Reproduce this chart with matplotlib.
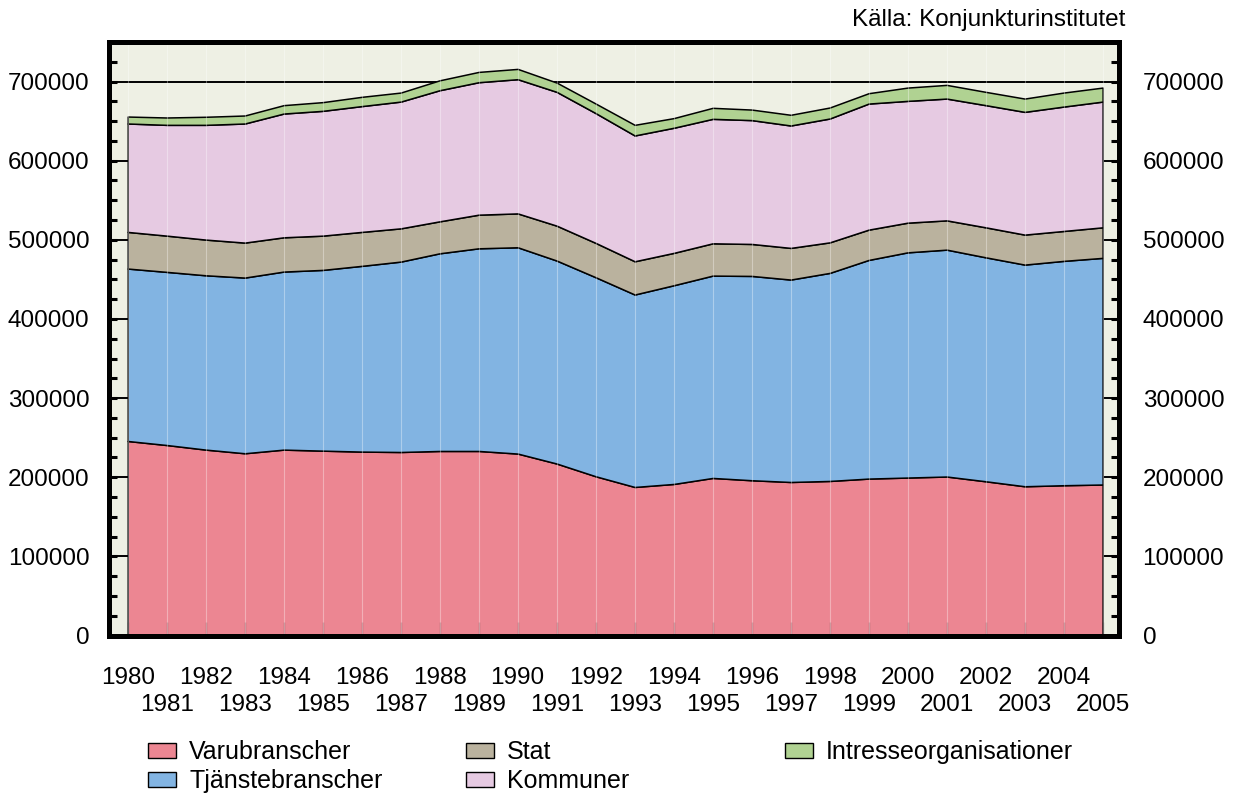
import matplotlib.pyplot as plt
import matplotlib.patches as mpatches
from matplotlib.ticker import MultipleLocator
import numpy as np

plt.rcParams['font.family'] = ['Liberation Sans', 'DejaVu Sans']

# data
years = list(range(1980, 2006))
varubranscher = [245800, 240700, 234900, 230300, 234900, 233600, 232400, 231900, 233200, 233200,
                 229900, 217300, 201200, 187700, 191500, 199100, 196200, 194000, 195300, 198300,
                 199600, 200900, 194900, 188600, 189900, 190800]
tjanstebranscher = [217900, 218800, 220300, 222000, 225000, 228400, 234700, 240600, 249800, 256100,
                    260700, 256500, 251500, 243200, 251100, 255700, 258200, 255800, 262900, 276300,
                    284600, 286700, 283000, 280100, 283500, 286400]
stat = [46300, 45800, 45100, 44200, 43300, 43300, 42900, 42000, 40400, 42500,
        42800, 44100, 43400, 42000, 40900, 40800, 40400, 40000, 38600, 38300,
        37500, 37000, 37900, 37900, 37800, 38600]
kommuner = [137000, 140000, 145000, 150500, 156400, 157700, 159000, 160200, 165700, 167400,
            169600, 169100, 164000, 159000, 158100, 157300, 156500, 154700, 156500, 159300,
            153900, 153900, 154400, 155100, 157200, 158900]
intresse = [8800, 9300, 10200, 10100, 10600, 11000, 11700, 11400, 12500, 13000,
            13000, 11700, 12100, 13400, 12200, 13900, 13300, 13500, 13900, 13100,
            16800, 17300, 16800, 16800, 17700, 17700]
yticks = list(range(0, 800000, 100000))

labels = ['Varubranscher', 'Tjänstebranscher', 'Stat', 'Kommuner', 'Intresseorganisationer']
colors = ['#EC8692', '#82B4E2', '#BAB29E', '#E6CAE2', '#B0D292']

W, H = 1233, 794
fig = plt.figure(figsize=(W / 100, H / 100), dpi=100)
left, right, bottom, top = 109, 1119, 635.5, 42
ax = fig.add_axes([left / W, (H - bottom) / H, (right - left) / W, (bottom - top) / H])
ax.set_facecolor('#EEF0E4')

# horizontal grid behind the areas
for yv in yticks[1:]:
    ax.axhline(yv, color='black', lw=1.4, zorder=0.5)

ax.stackplot(years, varubranscher, tjanstebranscher, stat, kommuner, intresse,
             colors=colors, edgecolor='black', linewidth=1.1, zorder=1)

# thin white year lines on top
for yr in years:
    ax.axvline(yr, color='white', lw=0.8, alpha=0.35, zorder=2)

ax.set_xlim(1979.52, 2005.42)
ax.set_ylim(0, 750000)

for s in ax.spines.values():
    s.set_linewidth(3.6)

# x ticks: even years on first row, odd years on second row
ax.set_xticks([y for y in years if y % 2 == 0])
ax.set_xticks([y for y in years if y % 2 == 1], minor=True)
ax.set_xticklabels([str(y) for y in years if y % 2 == 0])
ax.set_xticklabels([str(y) for y in years if y % 2 == 1], minor=True)
ax.tick_params(axis='x', which='both', direction='in', length=10, width=1,
               color=(0, 0, 0, 0.25), labelsize=17.5)
ax.tick_params(axis='x', which='major', pad=23)
ax.tick_params(axis='x', which='minor', pad=42)

ax.set_yticks(yticks)
ax.set_yticklabels([str(v) for v in yticks])
ax.yaxis.set_minor_locator(MultipleLocator(25000))
ax.tick_params(axis='y', which='both', direction='in', length=6, width=2.2,
               color='black', labelsize=17.5, pad=14)

ax2 = ax.twinx()
ax2.set_ylim(0, 750000)
ax2.set_yticks(yticks)
ax2.set_yticklabels([str(v) for v in yticks])
ax2.yaxis.set_minor_locator(MultipleLocator(25000))
ax2.tick_params(axis='y', which='both', direction='in', length=6, width=2.2,
                color='black', labelsize=17.5, pad=17)
for s in ax2.spines.values():
    s.set_visible(False)

fig.text(1125 / W, 1 - 20 / H, 'Källa: Konjunkturinstitutet', ha='right', va='center', fontsize=17.5)

# legend in three fixed columns
handles = [mpatches.Patch(facecolor=c, edgecolor='black', linewidth=1, label=l)
           for c, l in zip(colors, labels)]
cols = [(148, handles[0:2]), (466, handles[2:4]), (785, handles[4:5])]
for x0, hs in cols:
    fig.legend(handles=hs, loc='upper left', bbox_to_anchor=(x0 / W, 1 - 740 / H),
               frameon=False, fontsize=18, handlelength=1.1, handleheight=0.55,
               handletextpad=0.55, labelspacing=0.2, borderpad=0, borderaxespad=0)

fig.savefig('out.png', dpi=100)
